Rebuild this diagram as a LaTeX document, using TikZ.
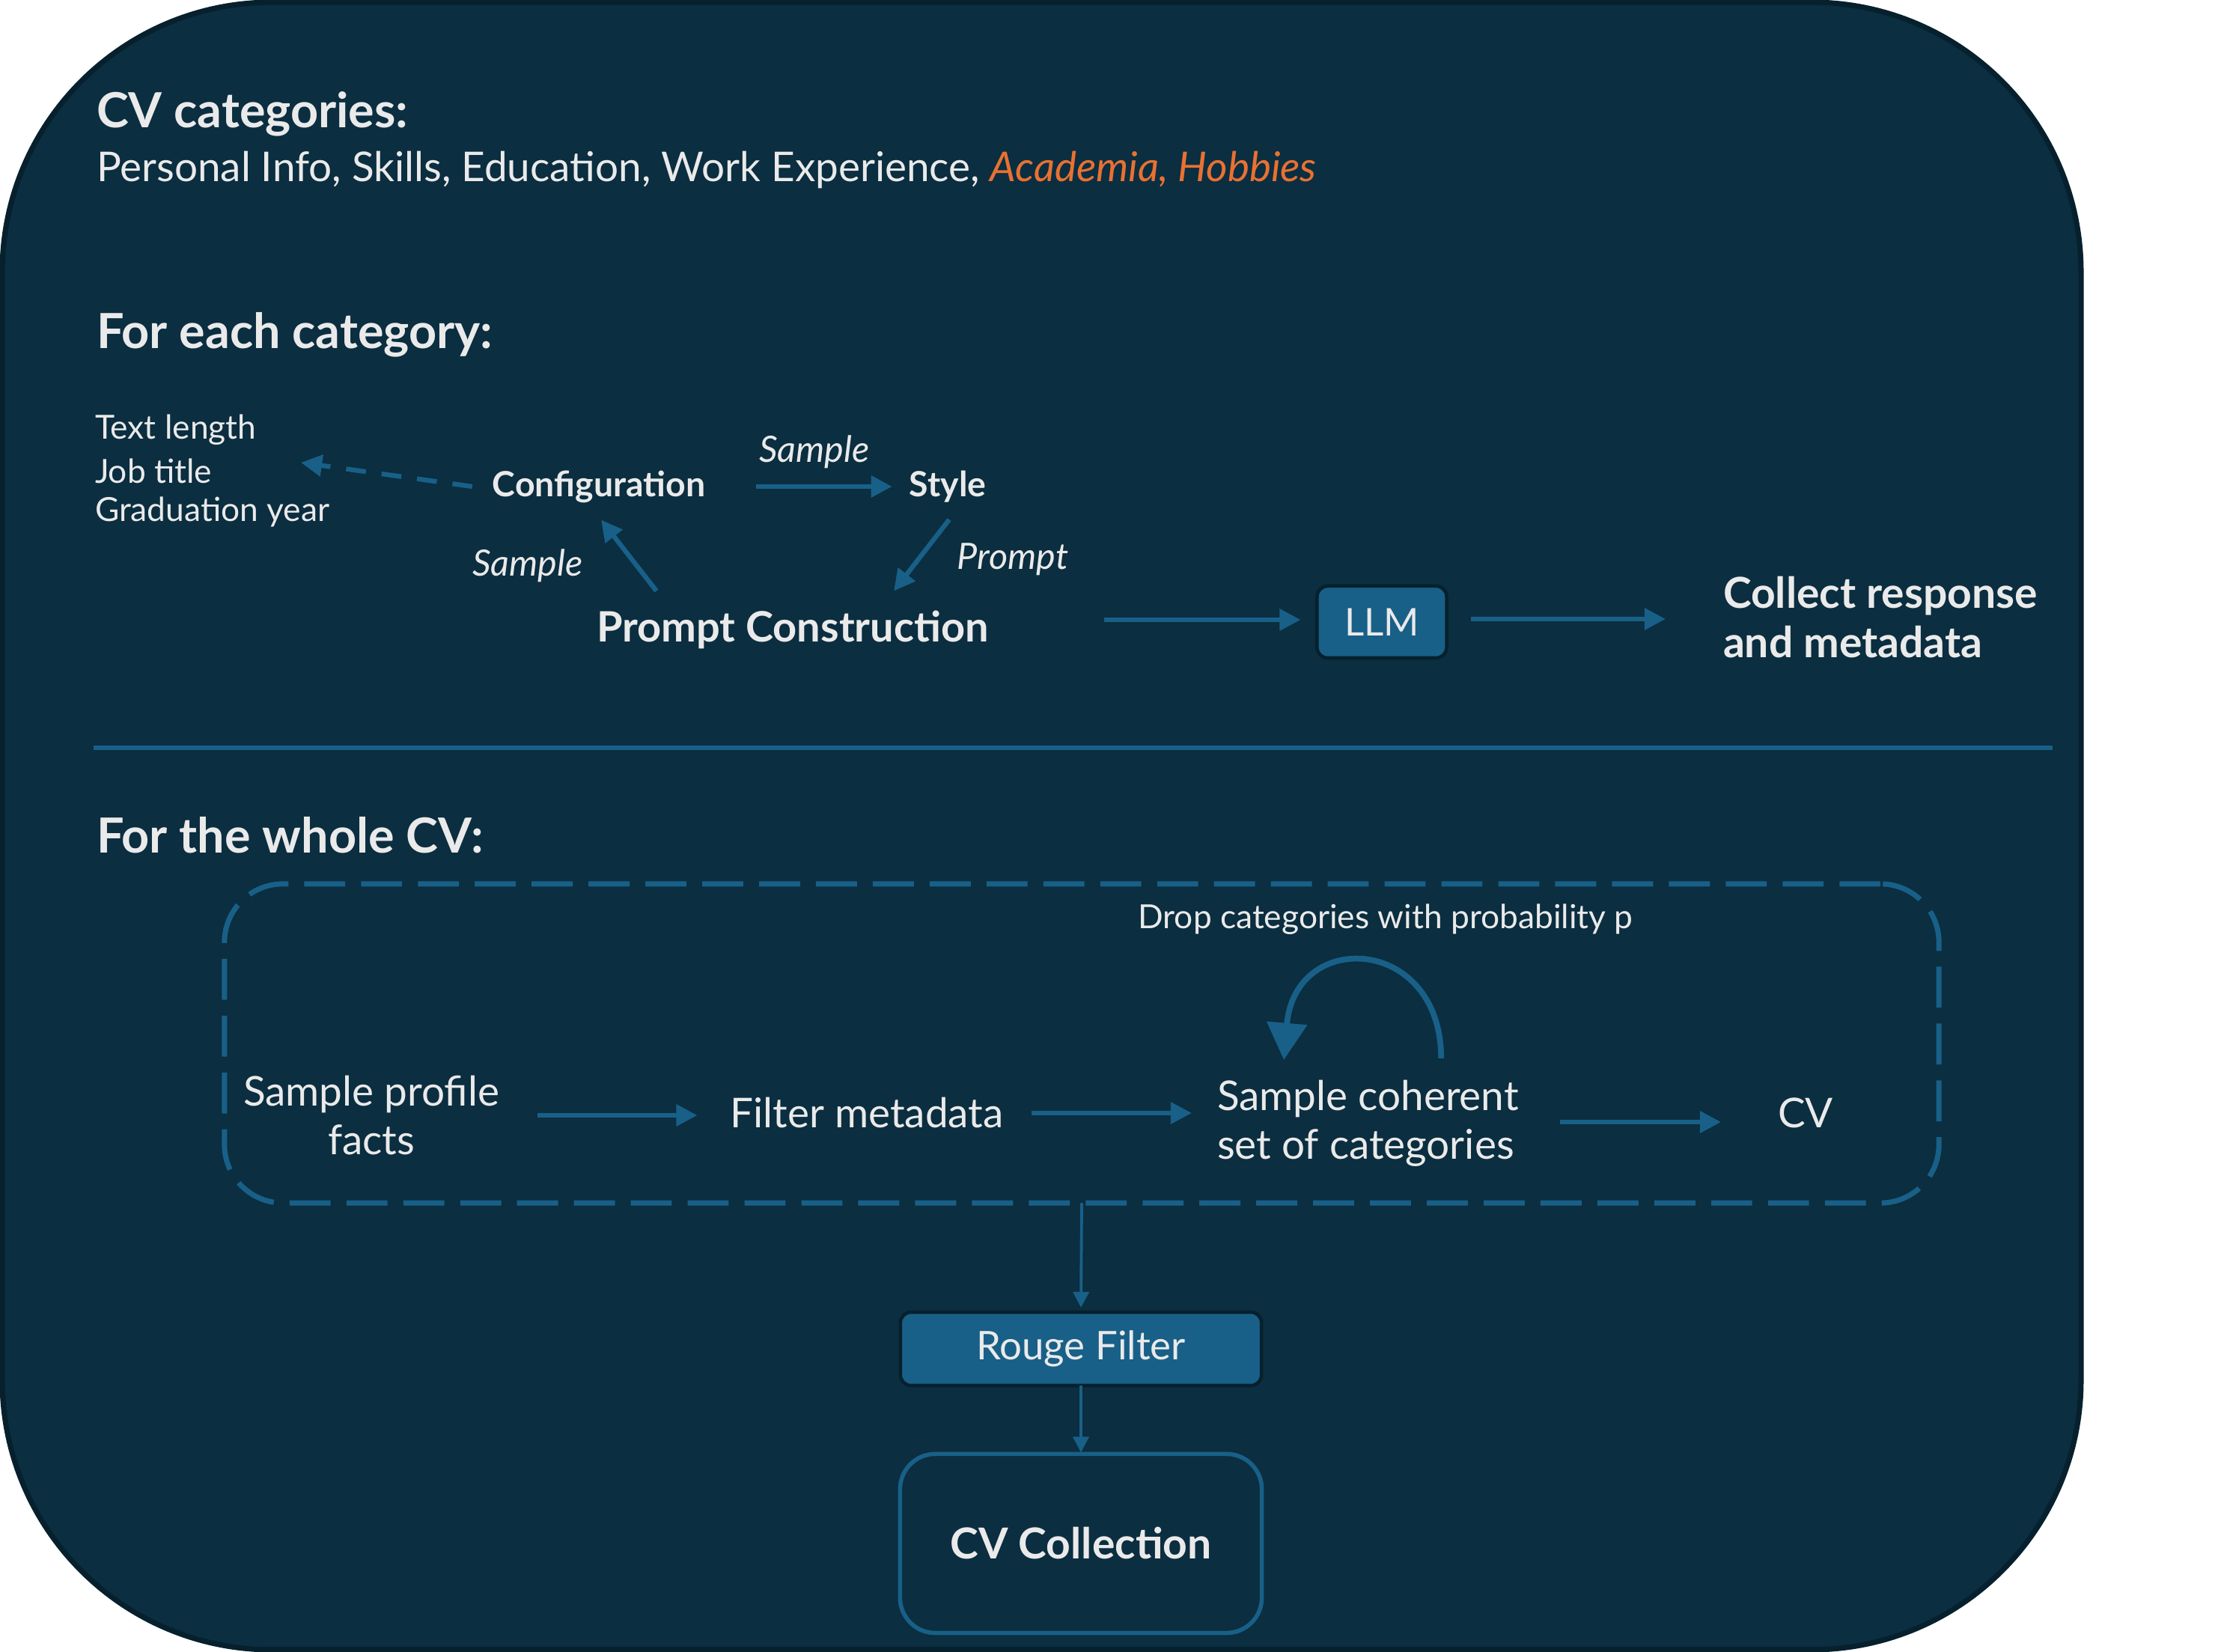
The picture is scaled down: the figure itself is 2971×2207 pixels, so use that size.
\documentclass[tikz,border=0pt]{standalone}
\usepackage{fontspec}
\setmainfont{Lato}
\usetikzlibrary{arrows.meta}
\definecolor{bg}{HTML}{0B2E40}
\definecolor{bgedge}{HTML}{06202D}
\definecolor{acc}{HTML}{186088}
\definecolor{txt}{HTML}{EAEAEA}
\definecolor{org}{HTML}{E97132}
\begin{document}
\begin{tikzpicture}[x=0.01cm,y=-0.01cm,
  every node/.style={text=txt, inner sep=0pt, outer sep=0pt},
  ttl/.style={font=\fontsize{18.4}{22}\selectfont\bfseries},
  bodytxt/.style={font=\fontsize{15.6}{18.6}\selectfont},
  smalltxt/.style={font=\fontsize{12.6}{14}\selectfont},
  lbl/.style={font=\fontsize{13.8}{16}\selectfont\itshape},
  boldmid/.style={font=\fontsize{13.2}{16}\selectfont\bfseries},
  boldbig/.style={font=\fontsize{16.2}{18.8}\selectfont\bfseries},
  arr/.style={draw=acc, line width=1.8pt, -{Triangle[width=8pt,length=8pt]}},
  dasharr/.style={arr, dash pattern=on 7.6pt off 6pt},
  thinarr/.style={draw=acc, line width=1.1pt, -{Triangle[width=6pt,length=6pt]}},
  looparr/.style={draw=acc, line width=2.2pt, -{Triangle[width=15pt,length=14pt]}},
  fillbox/.style={fill=acc, draw=bgedge, line width=1.3pt, rounded corners=4pt}
]
\useasboundingbox (0,0) rectangle (2971,2207);
\fill[white] (0,0) rectangle (2971,2207);
\draw[bgedge, line width=2pt, fill=bg, rounded corners=3.6cm] (3,3) rectangle (2780,2204);

% --- top section
\node[ttl, anchor=west] (t1) at (129,152) {CV categories:};
\node[bodytxt, anchor=base west] (t2) at (129,243) {Personal Info, Skills, Education, Work Experience, \textcolor{org}{\itshape Academia, Hobbies}};

\node[ttl, anchor=west] (t3) at (129,447) {For each category:};

\node[smalltxt, anchor=west] (tl) at (127,574) {Text length};
\node[smalltxt, anchor=west] (jt) at (127,629) {Job title};
\node[smalltxt, anchor=west] (gy) at (127,684) {Graduation year};

\node[boldmid] (cfg) at (800,650) {Configuration};
\node[boldmid] (sty) at (1266,650) {Style};
\node[font=\fontsize{15.9}{18}\selectfont\bfseries] (pc) at (1059,841) {Prompt Construction};
\node[lbl] (l1) at (1088,604) {Sample};
\node[lbl] (l2) at (1353,747) {Prompt};
\node[lbl] (l3) at (705,756) {Sample};

\node[fillbox, minimum width=1.73cm, minimum height=0.96cm, font=\fontsize{14.5}{16}\selectfont] (llm) at (1846,831) {LLM};
\node[boldbig, align=left, anchor=west] (col) at (2302,825) {Collect response\\and metadata};

\coordinate (dashend) at (402,618);
\draw[dasharr] ([xshift=-0.27cm]cfg.west) -- (dashend);
\draw[arr, shorten <=0.68cm, shorten >=0.23cm] (cfg.east) -- (sty.west);
\draw[arr] ([xshift=0.02cm,yshift=-0.23cm]sty.south) -- ([xshift=1.35cm,yshift=0.26cm]pc.north);
\draw[arr] ([xshift=-1.82cm,yshift=0.26cm]pc.north) -- ([xshift=0.03cm,yshift=-0.23cm]cfg.south);
\draw[arr] ([xshift=-0.22cm,yshift=0.03cm]llm.west) ++(-262,0) -- ([xshift=-0.22cm,yshift=0.03cm]llm.west);
\draw[arr, shorten <=0.32cm, shorten >=0.77cm] ([yshift=0.04cm]llm.east) -- ([yshift=0.04cm]llm.east -| col.west);

% divider
\coordinate (d1) at (125,999);
\coordinate (d2) at (2742,999);
\draw[acc, line width=1.5pt] (d1) -- (d2);

% --- bottom section
\node[ttl, anchor=west] (t4) at (129,1116) {For the whole CV:};

\node[draw=acc, line width=2pt, dash pattern=on 15.6pt off 6pt, rounded corners=0.78cm,
      minimum width=22.89cm, minimum height=4.26cm] (box) at (1445,1394) {};

\node[bodytxt, align=center] (spf) at (496,1490) {Sample profile\\facts};
\node[bodytxt] (fm) at (1158,1487) {Filter metadata};
\node[bodytxt, align=left, anchor=west] (scs) at (1626,1501) {Sample coherent\\set of categories};
\node[bodytxt] (cv) at (2412,1487) {CV};
\node[smalltxt] (drop) at (1851,1228) {Drop categories with probability p};

\draw[arr, shorten <=0.51cm, shorten >=0.44cm] (spf.east) -- (spf.east -| fm.west);
\draw[arr, shorten <=0.38cm, shorten >=0.34cm] (fm.east) -- (fm.east -| scs.west);
\draw[arr, shorten <=0.55cm, shorten >=0.76cm] ([yshift=0.02cm]scs.east) -- ([yshift=0.02cm]scs.east -| cv.west);

\coordinate (ls) at ([xshift=2.99cm,yshift=0.87cm]scs.west);
\coordinate (le) at ([xshift=0.89cm,yshift=0.85cm]scs.west);
\draw[looparr] (ls) .. controls +(0,-164) and +(15,-176) .. (le);

\node[fillbox, minimum width=4.82cm, minimum height=0.98cm, font=\fontsize{15}{16}\selectfont] (rf) at (1444,1802) {Rouge Filter};
\node[draw=acc, line width=1.6pt, rounded corners=0.47cm, minimum width=4.83cm, minimum height=2.39cm, boldbig] (cvc) at (1444,2062) {CV Collection};

\draw[thinarr, shorten >=0.06cm] (box.south) -- (rf.north);
\draw[thinarr, shorten >=0.02cm] (rf.south) -- (cvc.north);
\end{tikzpicture}
\end{document}
